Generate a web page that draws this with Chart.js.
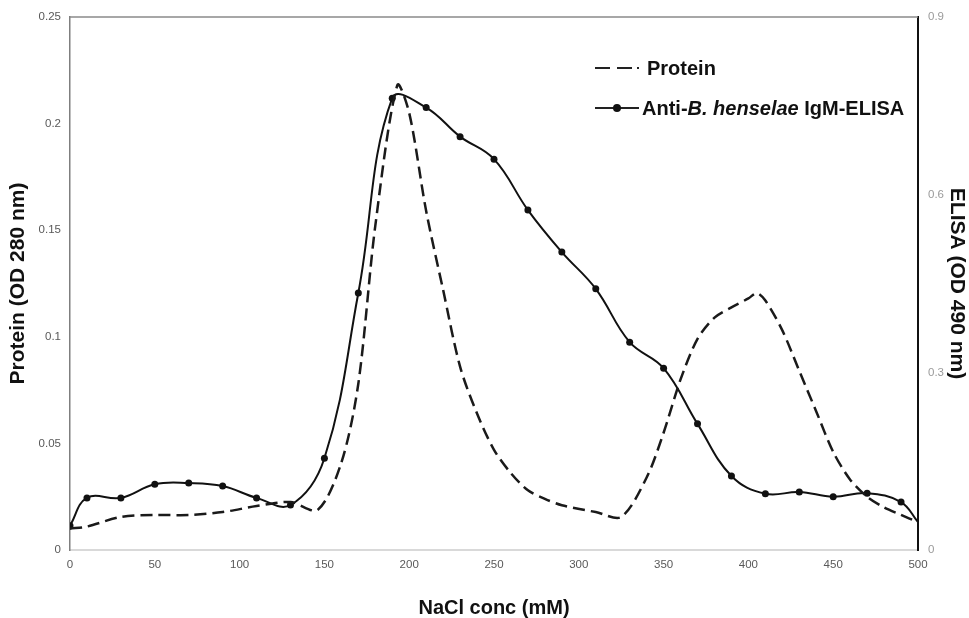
<!DOCTYPE html>
<html lang="en">
<head>
  <meta charset="UTF-8" />
  <title>NaCl elution profile</title>
  <style>
    body {
      margin: 0;
      background: #fff;
      font-family: "Liberation Sans", Arial, sans-serif;
    }
    .wrap {
      position: relative;
      width: 969px;
      height: 618px;
    }
    .legend {
      position: absolute;
      left: 595px;
      top: 54px;
      font-weight: bold;
      font-size: 20px;
      color: #111;
    }
    .legend .row {
      display: flex;
      align-items: center;
      height: 28px;
      margin-bottom: 12px;
    }
    .legend .key {
      position: relative;
      width: 45px;
      height: 2px;
      margin-right: 7px;
    }
    .legend .seg {
      position: absolute;
      top: 0;
      height: 2px;
      background: #222;
    }
    .legend .dot {
      position: absolute;
      left: 18px;
      top: -3px;
      width: 8px;
      height: 8px;
      border-radius: 50%;
      background: #111;
    }
  </style>
</head>
<body>
  <div class="wrap">
    <canvas id="chart" width="969" height="618"></canvas>
    <div class="legend">
      <div class="row">
        <span class="key">
          <span class="seg" style="left:0;width:15px"></span>
          <span class="seg" style="left:22px;width:15px"></span>
          <span class="seg" style="left:42px;width:2px"></span>
        </span>Protein
      </div>
      <div class="row">
        <span class="key" style="width:44px;margin-right:3px">
          <span class="seg" style="left:0;width:44px"></span>
          <span class="dot"></span>
        </span>Anti-<i>B.</i>&nbsp; <i>henselae</i>&nbsp;IgM-ELISA
      </div>
    </div>
  </div>

  <script src="https://cdn.jsdelivr.net/npm/chart.js"></script>
  <script>
    // fractions eluted by the NaCl gradient (mM)
    const elisaConc = [0, 10, 30, 50, 70, 90, 110, 130, 150, 170, 190, 210, 230, 250, 270, 290, 310, 330, 350, 370, 390, 410, 430, 450, 470, 490, 500];
    const elisaOD = [0.041, 0.088, 0.088, 0.111, 0.113, 0.108, 0.088, 0.076, 0.155, 0.434, 0.763, 0.747, 0.698, 0.660, 0.574, 0.503, 0.441, 0.351, 0.307, 0.213, 0.125, 0.095, 0.098, 0.090, 0.096, 0.081, 0.047];

    const proteinConc = [0, 10, 30, 50, 70, 90, 110, 130, 146, 160, 170, 180, 193, 200, 210, 220, 230, 240, 250, 260, 270, 280, 290, 310, 325, 340, 350, 360, 370, 380, 390, 400, 405, 410, 420, 430, 440, 450, 460, 470, 480, 490, 500];
    const proteinOD = [0.010, 0.011, 0.0155, 0.0164, 0.0164, 0.0178, 0.0206, 0.0225, 0.0188, 0.041, 0.078, 0.152, 0.218, 0.205, 0.159, 0.122, 0.086, 0.064, 0.047, 0.036, 0.028, 0.024, 0.021, 0.0178, 0.0155, 0.034, 0.055, 0.080, 0.099, 0.109, 0.1138, 0.118, 0.1205, 0.117, 0.103, 0.084, 0.065, 0.046, 0.033, 0.025, 0.020, 0.0165, 0.013];

    const xTicks = [0, 50, 100, 150, 200, 250, 300, 350, 400, 450, 500];
    const proteinTicks = [0, 0.05, 0.1, 0.15, 0.2, 0.25];
    const elisaTicks = [0, 0.3, 0.6, 0.9];

    const fixTicks = arr => scale => { scale.ticks = arr.map(v => ({ value: v })); };
    const fmt = v => String(+Number(v).toFixed(2));

    // thin gray frame line across the top of the plot
    const topBorder = {
      id: "topBorder",
      afterDraw(chart) {
        const { ctx, chartArea } = chart;
        ctx.save();
        ctx.strokeStyle = "#8a8a8a";
        ctx.lineWidth = 1.5;
        ctx.beginPath();
        ctx.moveTo(chartArea.left, chartArea.top);
        ctx.lineTo(chartArea.right, chartArea.top);
        ctx.stroke();
        ctx.restore();
      }
    };

    Chart.defaults.font.family = '"Liberation Sans", Arial, sans-serif';

    new Chart(document.getElementById("chart"), {
      type: "line",
      data: {
        datasets: [
          {
            label: "Protein",
            data: proteinConc.map((x, i) => ({ x, y: proteinOD[i] })),
            yAxisID: "y",
            borderColor: "#1a1a1a",
            borderWidth: 2.5,
            borderDash: [12, 6],
            pointRadius: 0,
            tension: 0.3,
            fill: false
          },
          {
            label: "Anti-B. henselae IgM-ELISA",
            data: elisaConc.map((x, i) => ({ x, y: elisaOD[i] })),
            yAxisID: "y2",
            borderColor: "#111",
            backgroundColor: "#111",
            borderWidth: 2,
            pointRadius: ctx => (ctx.raw && ctx.raw.x === 500 ? 0 : 3.5),
            pointBorderWidth: 0,
            tension: 0.4,
            fill: false
          }
        ]
      },
      options: {
        responsive: false,
        animation: false,
        layout: { padding: { top: 17, left: 0, right: 0, bottom: 0 } },
        plugins: {
          legend: { display: false },
          tooltip: { enabled: false }
        },
        scales: {
          x: {
            type: "linear",
            min: 0,
            max: 500,
            afterBuildTicks: fixTicks(xTicks),
            afterFit: s => { s.height = 68; },
            grid: { display: false, drawTicks: false },
            border: { color: "#d9d9d9", width: 2 },
            ticks: { color: "#595959", font: { size: 11.5 }, padding: 8, maxRotation: 0, callback: fmt },
            title: { display: true, text: "NaCl conc (mM)", color: "#111", font: { size: 20, weight: "bold", lineHeight: 1 }, padding: { top: 0, bottom: 0 } }
          },
          y: {
            position: "left",
            min: 0,
            max: 0.25,
            afterBuildTicks: fixTicks(proteinTicks),
            afterFit: s => { s.width = 70; },
            grid: { display: false, drawTicks: false },
            border: { color: "#7f7f7f", width: 1.5 },
            ticks: { color: "#595959", font: { size: 11.5 }, padding: 9, callback: fmt },
            title: { display: true, text: "Protein (OD 280 nm)", color: "#111", font: { size: 21, weight: "bold", lineHeight: 1.2 }, padding: { top: 6, bottom: 0 } }
          },
          y2: {
            position: "right",
            min: 0,
            max: 0.9,
            afterBuildTicks: fixTicks(elisaTicks),
            afterFit: s => { s.width = 51; },
            grid: { display: false, drawTicks: false },
            border: { color: "#111", width: 2 },
            ticks: { color: "#9a9a9a", font: { size: 11.5 }, padding: 10, callback: fmt },
            title: { display: true, text: "ELISA (OD 490 nm)", color: "#111", font: { size: 21, weight: "bold", lineHeight: 1.2 }, padding: { top: 0, bottom: 0 } }
          }
        }
      },
      plugins: [topBorder]
    });
  </script>
</body>
</html>
